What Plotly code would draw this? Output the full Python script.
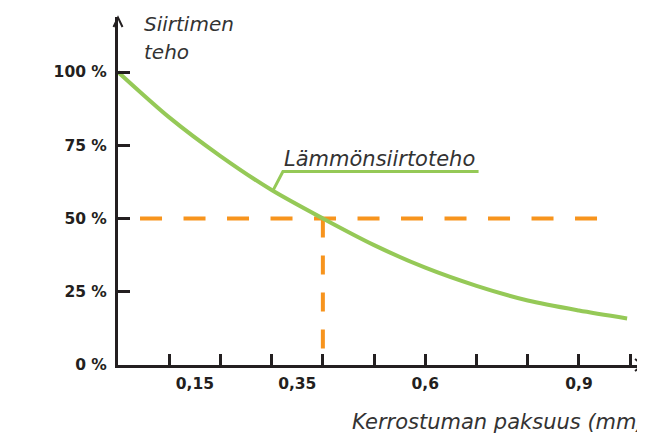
import plotly.graph_objects as go

# ---- data (x in axis units, one unit per tick mark) ----
thickness = [0, 1, 2, 3, 4, 5, 6, 7, 8, 9, 9.94]
heat_transfer = [100, 84.5, 71.3, 59.7, 50.0, 40.9, 33.2, 27.0, 22.0, 18.6, 15.9]

x_tick_marks = [1, 2, 3, 4, 5, 6, 7, 8, 9, 10]
x_label_pos = [1.5, 3.5, 6, 9]
x_label_text = ["0,15", "0,35", "0,6", "0,9"]

y_tick_vals = [0, 25, 50, 75, 100]
y_tick_text = ["0 %", "25 %", "50 %", "75 %", "100 %"]

ref_level = 50          # 50 % heat transfer
ref_thickness = 4.0     # thickness where level reached
ref_x_start = 0.43
ref_x_end = 9.37

curve_name = "Lämmönsiirtoteho"
y_title = ["Siirtimen", "teho"]
x_title = "Kerrostuman paksuus (mm)"

GREEN = "#95c957"
ORANGE = "#f7941d"
INK = "#231f20"
TXT = "#333333"
FONT = "DejaVu Sans"

X_MAX = 10.27
Y_MAX = 118.77

fig = go.Figure()

# dashed reference lines
fig.add_trace(go.Scatter(x=[ref_x_start, ref_x_end], y=[ref_level, ref_level], mode="lines",
                         line=dict(color=ORANGE, width=4, dash="22px,21.5px"),
                         hoverinfo="skip", showlegend=False))
fig.add_trace(go.Scatter(x=[ref_thickness, ref_thickness], y=[ref_level, 0], mode="lines",
                         line=dict(color=ORANGE, width=4, dash="19px,18px"),
                         hoverinfo="skip", showlegend=False))

# main curve
fig.add_trace(go.Scatter(x=thickness, y=heat_transfer, mode="lines",
                         line=dict(color=GREEN, width=4, shape="spline", smoothing=0.8),
                         name=curve_name, showlegend=False))

# leader line for curve label
lead_x = [3.03, 3.22, 7.04]
lead_y = [59.7, 66.0, 66.0]
fig.add_shape(type="path", xref="x", yref="y",
              path=f"M {lead_x[0]},{lead_y[0]} L {lead_x[1]},{lead_y[1]} L {lead_x[2]},{lead_y[2]}",
              line=dict(color=GREEN, width=3))
fig.add_annotation(x=3.2, y=66.0, xref="x", yref="y", text=curve_name, showarrow=False,
                   xanchor="left", yanchor="bottom", yshift=-1,
                   font=dict(family=FONT, size=21, color=TXT, style="italic"))

# axis arrowheads (paper-referenced so they are not clipped)
fig.add_shape(type="path", xref="paper", yref="paper", xsizemode="pixel", ysizemode="pixel",
              xanchor=0, yanchor=1, path="M -4.5,-10 L 0,-0.5 L 4.5,-10",
              line=dict(color=INK, width=2))
fig.add_shape(type="path", xref="paper", yref="paper", xsizemode="pixel", ysizemode="pixel",
              xanchor=1, yanchor=0, path="M -9,6 L -0.5,0 L -9,-6",
              line=dict(color=INK, width=2))

# axis titles
fig.add_annotation(xref="paper", yref="paper", x=0, y=1, xshift=24, yshift=7,
                   text=y_title[0], showarrow=False, xanchor="left", yanchor="top",
                   font=dict(family=FONT, size=20, color=TXT, style="italic"))
fig.add_annotation(xref="paper", yref="paper", x=0, y=1, xshift=24, yshift=-21,
                   text=y_title[1], showarrow=False, xanchor="left", yanchor="top",
                   font=dict(family=FONT, size=20, color=TXT, style="italic"))
fig.add_annotation(xref="x", yref="paper", x=4.53, y=0, yshift=-43,
                   text=x_title, showarrow=False, xanchor="left", yanchor="top",
                   font=dict(family=FONT, size=21, color=TXT, style="italic"))

# page has an 8px body margin, so the figure is 8px smaller than the window
fig.update_layout(
    width=637, height=425,
    margin=dict(l=110, r=1, t=9, b=68),
    paper_bgcolor="white", plot_bgcolor="white",
    showlegend=False,
    xaxis=dict(range=[0, X_MAX], showgrid=False, zeroline=False,
               showline=True, linecolor=INK, linewidth=3,
               tickmode="array", tickvals=x_label_pos, ticktext=x_label_text, ticks="",
               tickfont=dict(family=FONT, size=15.5, color=INK, weight="bold"),
               ticklabelstandoff=2,
               minor=dict(tickmode="array", tickvals=x_tick_marks, ticks="inside",
                          ticklen=11, tickwidth=2.5, tickcolor=INK, showgrid=False)),
    yaxis=dict(range=[0, Y_MAX], showgrid=False, zeroline=False,
               showline=True, linecolor=INK, linewidth=3,
               tickmode="array", tickvals=y_tick_vals, ticktext=y_tick_text,
               ticks="inside", ticklen=12, tickwidth=2.5, tickcolor=INK,
               tickfont=dict(family=FONT, size=15.5, color=INK, weight="bold"),
               ticklabelstandoff=5),
)

fig.write_html("out.html")
